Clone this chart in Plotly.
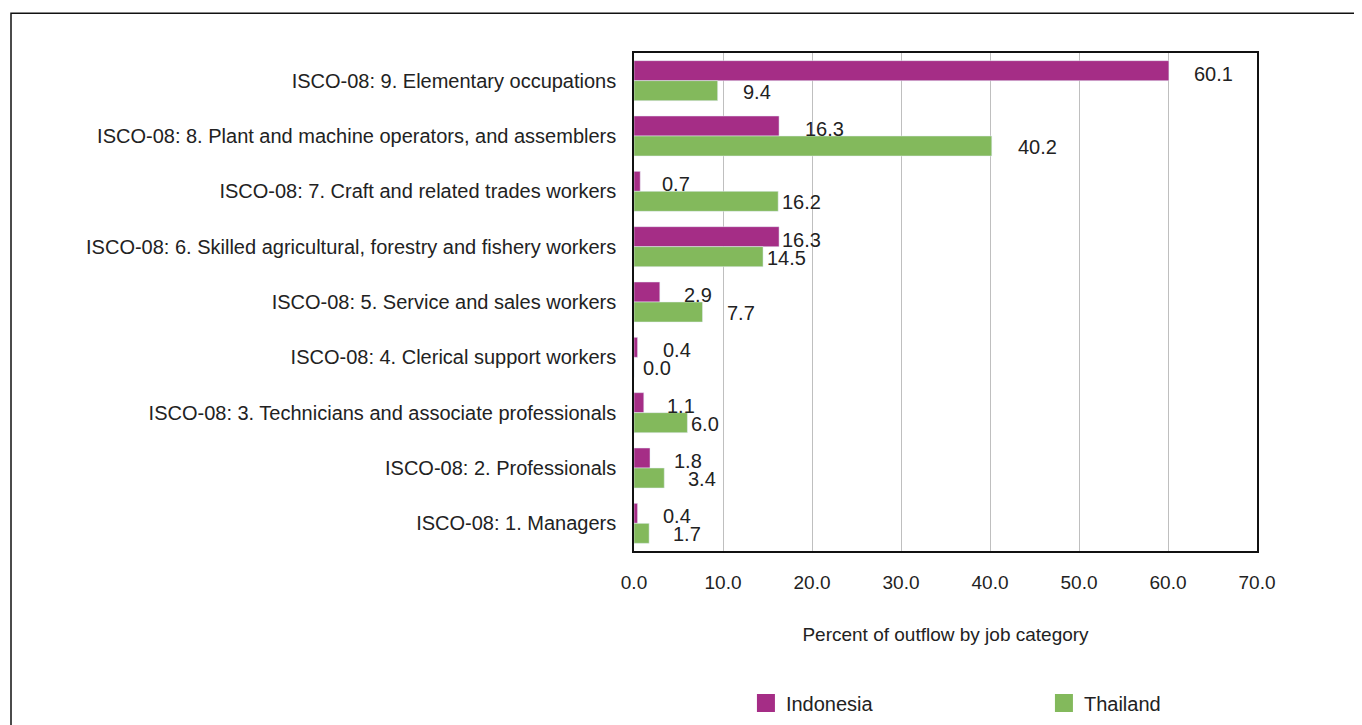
import plotly.graph_objects as go

categories = [
    "ISCO-08: 9. Elementary occupations",
    "ISCO-08: 8. Plant and machine operators, and assemblers",
    "ISCO-08: 7. Craft and related trades workers",
    "ISCO-08: 6. Skilled agricultural, forestry and fishery workers",
    "ISCO-08: 5. Service and sales workers",
    "ISCO-08: 4. Clerical support workers",
    "ISCO-08: 3. Technicians and associate professionals",
    "ISCO-08: 2. Professionals",
    "ISCO-08: 1. Managers",
]
indonesia = [60.1, 16.3, 0.7, 16.3, 2.9, 0.4, 1.1, 1.8, 0.4]
thailand = [9.4, 40.2, 16.2, 14.5, 7.7, 0.0, 6.0, 3.4, 1.7]
x_ticks = [0, 10, 20, 30, 40, 50, 60, 70]

# label offsets (pixels right of bar end), style only
indo_shift = [23, 24, 20, 1, 22, 23, 21, 22, 23]
thai_shift = [23, 24, 2, 2, 22, 7, 2, 22, 22]

FONT = "Liberation Sans"
C_INDO = "#A52D86"
C_THAI = "#83B95C"

fig = go.Figure()
fig.add_trace(go.Bar(y=categories, x=indonesia, name="Indonesia", orientation="h",
                     marker=dict(color=C_INDO), showlegend=False))
fig.add_trace(go.Bar(y=categories, x=thailand, name="Thailand", orientation="h",
                     marker=dict(color=C_THAI), showlegend=False))
# legend entries with larger square swatches
for name, col in [("Indonesia", C_INDO), ("Thailand", C_THAI)]:
    fig.add_trace(go.Scatter(x=[None], y=[None], mode="markers", name=name,
                             marker=dict(symbol="square", size=16, color=col,
                                         line=dict(color=col, width=2))))

for cat, v, s in zip(categories, indonesia, indo_shift):
    fig.add_annotation(x=v, y=cat, text=f"{v:.1f}", showarrow=False, xanchor="left",
                       xshift=s, yshift=7, font=dict(family=FONT, size=20, color="#222"))
for cat, v, s in zip(categories, thailand, thai_shift):
    fig.add_annotation(x=v, y=cat, text=f"{v:.1f}", showarrow=False, xanchor="left",
                       xshift=s, yshift=-11, font=dict(family=FONT, size=20, color="#222"))

# outer frame
fig.add_shape(type="rect", xref="paper", yref="paper", x0=-1.0, x1=1.2, y0=-0.4, y1=1.080,
              line=dict(color="#111", width=1.5), layer="below")

fig.update_layout(
    width=1354, height=717,
    margin=dict(l=626, r=105, t=45, b=174, autoexpand=False),
    paper_bgcolor="white", plot_bgcolor="white",
    barmode="group", bargap=0.277, bargroupgap=0,
    font=dict(family=FONT, size=19, color="#222"),
    showlegend=True,
    legend=dict(orientation="h", xref="container", yref="container",
                x=0.545, xanchor="left", y=0.058, yanchor="top",
                entrywidth=253, entrywidthmode="pixels", font=dict(size=20),
                itemwidth=30, tracegroupgap=0),
    xaxis=dict(range=[0, 70], tickvals=x_ticks, ticktext=[f"{t:.1f}" for t in x_ticks],
               showgrid=True, gridcolor="#BFBFBF", gridwidth=1,
               showline=True, linecolor="#111", linewidth=1.5, mirror=True,
               zeroline=False, ticks="", ticklabelstandoff=13,
               tickfont=dict(size=19),
               title=dict(text="Percent of outflow by job category", font=dict(size=19), standoff=36)),
    yaxis=dict(autorange="reversed", showgrid=False,
               showline=True, linecolor="#111", linewidth=1.5, mirror=True,
               ticks="", ticklabelstandoff=12, tickfont=dict(size=20)),
)

fig.write_html("out.html")
